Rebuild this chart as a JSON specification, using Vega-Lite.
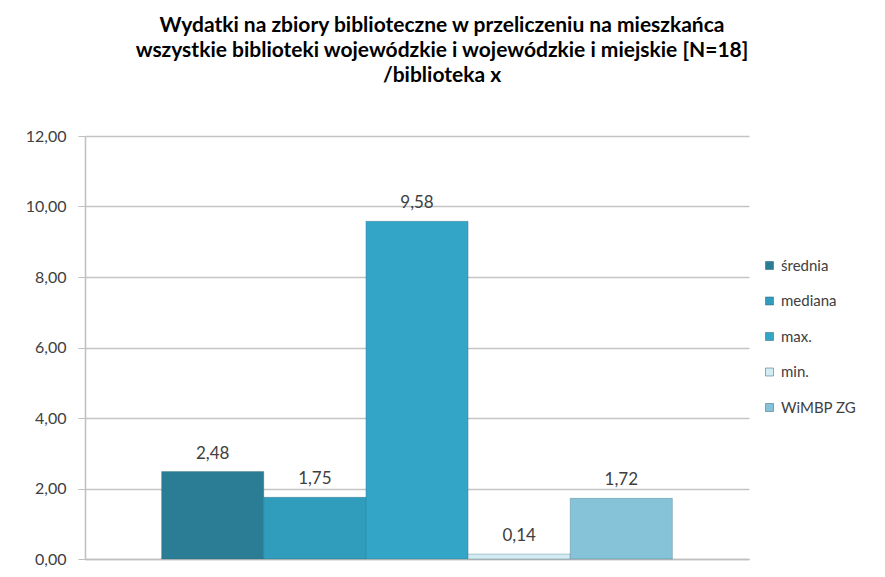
{
  "$schema": "https://vega.github.io/schema/vega-lite/v6.json",
  "autosize": {"type": "none"},
  "padding": {"left": 85, "top": 136, "right": 136, "bottom": 18},
  "width": 664,
  "height": 423,
  "background": "white",
  "config": {
    "view": {"stroke": null},
    "font": "Lato",
    "locale": {"number": {"decimal": ",", "thousands": " ", "grouping": [3], "currency": ["", " zł"]}}
  },
  "title": {
    "text": ["Wydatki na zbiory biblioteczne w przeliczeniu na mieszkańca", "wszystkie biblioteki wojewódzkie i wojewódzkie i miejskie  [N=18]", "/biblioteka x"],
    "font": "Lato",
    "fontSize": 21,
    "fontWeight": "bold",
    "color": "#000000",
    "lineHeight": 25,
    "anchor": "middle",
    "dx": 25,
    "offset": 42
  },
  "data": {
    "values": [
      {"kategoria": "średnia", "wartosc": 2.48},
      {"kategoria": "mediana", "wartosc": 1.75},
      {"kategoria": "max.", "wartosc": 9.58},
      {"kategoria": "min.", "wartosc": 0.14},
      {"kategoria": "WiMBP ZG", "wartosc": 1.72}
    ]
  },
  "encoding": {
    "x": {
      "field": "kategoria",
      "type": "nominal",
      "sort": null,
      "scale": {"paddingInner": 0, "paddingOuter": 0.75},
      "axis": {"title": null, "labels": false, "ticks": false, "domain": true, "domainColor": "#bfbfbf", "domainWidth": 1.5}
    },
    "y": {
      "field": "wartosc",
      "type": "quantitative",
      "scale": {"domain": [0, 12]},
      "axis": {
        "title": null,
        "values": [0, 2, 4, 6, 8, 10, 12],
        "format": ".2f",
        "labelFontSize": 16,
        "labelColor": "#404040",
        "labelPadding": 12,
        "tickSize": 7,
        "tickColor": "#bfbfbf",
        "domainColor": "#bfbfbf",
        "domainWidth": 1.5,
        "gridColor": "#c4c4c4",
        "gridWidth": 1.5
      }
    }
  },
  "layer": [
    {
      "mark": {"type": "bar", "stroke": "#2c5f70", "strokeWidth": 0.6, "strokeOpacity": 0.5},
      "encoding": {
        "color": {
          "field": "kategoria",
          "type": "nominal",
          "sort": null,
          "scale": {
            "domain": ["średnia", "mediana", "max.", "min.", "WiMBP ZG"],
            "range": ["#2a7d95", "#319dbd", "#33a6c8", "#d3ebf3", "#86c3d9"]
          },
          "legend": {
            "title": null,
            "orient": "none",
            "legendX": 677,
            "legendY": 122,
            "symbolType": "square",
            "symbolSize": 64,
            "symbolStrokeColor": "#2c5f70",
            "symbolStrokeWidth": 0.5,
            "labelFontSize": 15,
            "labelColor": "#404040",
            "labelOffset": 4,
            "rowPadding": 19.5
          }
        }
      }
    },
    {
      "mark": {"type": "text", "baseline": "bottom", "dy": -9, "fontSize": 17, "color": "#404040"},
      "encoding": {
        "text": {"field": "wartosc", "type": "quantitative", "format": ".2f"}
      }
    }
  ]
}
